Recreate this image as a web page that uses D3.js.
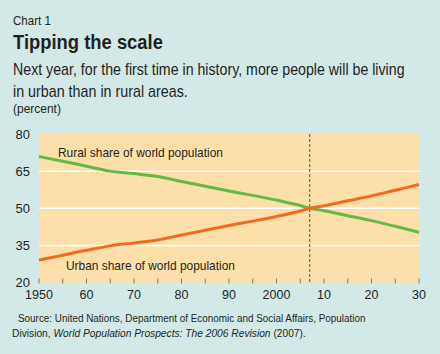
<!DOCTYPE html>
<html lang="en">
<head>
<meta charset="UTF-8">
<title>Tipping the scale</title>
<script src="https://cdnjs.cloudflare.com/ajax/libs/d3/7.8.5/d3.min.js"></script>
<style>
  body { margin: 0; background: #d2e9e8; }
  svg { display: block; font-family: "Liberation Sans", Arial, sans-serif; }
</style>
</head>
<body>
<div id="chart"></div>
<script>
  // data (percent of world population)
  var years = [1950, 1955, 1960, 1965, 1970, 1975, 1980, 1985, 1990, 1995, 2000, 2005, 2007, 2010, 2015, 2020, 2025, 2030];
  var urban = [29.1, 31.0, 33.0, 34.8, 36.0, 37.2, 39.2, 41.1, 43.0, 44.8, 46.7, 48.9, 50.0, 51.0, 53.0, 55.0, 57.3, 59.6];
  var rural = [70.9, 69.0, 67.0, 65.0, 64.0, 62.8, 60.8, 58.9, 57.0, 55.2, 53.3, 51.1, 50.0, 49.0, 47.0, 45.0, 42.7, 40.3];
  var yTicks = [20, 35, 50, 65, 80];
  var xTicks = [1950, 1960, 1970, 1980, 1990, 2000, 2010, 2020, 2030];
  var xTickLabels = ['1950', '60', '70', '80', '90', '2000', '10', '20', '30'];
  var markerYear = 2007;

  var w = 440, h = 354;
  var svg = d3.select('#chart').append('svg')
      .attr('width', w)
      .attr('height', h);

  svg.append('rect').attr('width', w).attr('height', h).attr('fill', '#d2e9e8');

  var x = d3.scaleLinear().domain([1950, 2030]).range([39, 419]);
  var y = d3.scaleLinear().domain([20, 80]).range([282.5, 134]);

  var ink = '#231f20';

  // squeeze a text horizontally to the width it has in the reference (condensed face)
  function squeeze(t, px, py, width) {
    var nat = t.node().getComputedTextLength();
    t.attr('transform', 'translate(' + px + ',' + py + ') scale(' + (width / nat) + ',1)');
    return t;
  }
  function label(px, py, str, size, width) {
    var t = svg.append('text').text(str)
        .style('font-size', size + 'px').attr('fill', ink);
    return squeeze(t, px, py, width);
  }

  // titles
  label(13, 25, 'Chart 1', 13, 38);
  var ttl = svg.append('text').text('Tipping the scale')
      .style('font-size', '21px').style('font-weight', 'bold').attr('fill', ink);
  squeeze(ttl, 13, 49, 150);
  label(13, 75, 'Next year, for the first time in history, more people will be living', 16, 392);
  label(13, 97, 'in urban than in rural areas.', 16, 175);
  label(13, 113, '(percent)', 12, 48);

  // plot background
  svg.append('rect')
      .attr('x', x(1950)).attr('y', y(80))
      .attr('width', x(2030) - x(1950))
      .attr('height', y(20) - y(80))
      .attr('fill', '#fde0a9');

  // gridlines
  svg.append('g').selectAll('line')
      .data(yTicks.filter(function (d) { return d > 20 && d < 80; }))
      .enter().append('line')
      .attr('x1', x(1950)).attr('x2', x(2030))
      .attr('y1', function (d) { return y(d); })
      .attr('y2', function (d) { return y(d); })
      .attr('stroke', '#fff').attr('stroke-width', 1.5);

  // y labels
  svg.append('g').selectAll('text')
      .data(yTicks)
      .enter().append('text')
      .attr('x', 30)
      .attr('y', function (d) { return y(d); })
      .attr('dy', '0.36em')
      .attr('text-anchor', 'end')
      .text(function (d) { return d; })
      .style('font-size', '13px').attr('fill', ink);

  // x ticks every 5 years, drawn up into the plot
  var minor = d3.range(1950, 2031, 5);
  svg.append('g').selectAll('line')
      .data(minor)
      .enter().append('line')
      .attr('x1', function (d) { return x(d); })
      .attr('x2', function (d) { return x(d); })
      .attr('y1', y(20) - 4).attr('y2', y(20) + 1)
      .attr('stroke', '#8a7a66').attr('stroke-width', 1);

  svg.append('g').selectAll('text')
      .data(xTicks)
      .enter().append('text')
      .attr('x', function (d) { return x(d); })
      .attr('y', 299)
      .attr('text-anchor', 'middle')
      .text(function (d, i) { return xTickLabels[i]; })
      .style('font-size', '12.5px').attr('fill', ink);

  // dashed marker
  svg.append('line')
      .attr('x1', x(markerYear)).attr('x2', x(markerYear))
      .attr('y1', y(80)).attr('y2', y(20))
      .attr('stroke', '#5a4a40').attr('stroke-width', 1)
      .attr('stroke-dasharray', '3,2');

  // lines
  var line = d3.line()
      .curve(d3.curveMonotoneX)
      .x(function (d) { return x(d[0]); })
      .y(function (d) { return y(d[1]); });

  svg.append('path')
      .datum(d3.zip(years, rural))
      .attr('d', line)
      .attr('fill', 'none').attr('stroke', '#62b946').attr('stroke-width', 3);

  svg.append('path')
      .datum(d3.zip(years, urban))
      .attr('d', line)
      .attr('fill', 'none').attr('stroke', '#f26a22').attr('stroke-width', 3);

  // line labels
  label(58, 157, 'Rural share of world population', 13, 165);
  label(66, 270, 'Urban share of world population', 13, 169);

  // source
  label(18, 322, 'Source: United Nations, Department of Economic and Social Affairs, Population', 11.5, 348);
  var l2 = svg.append('text')
      .style('font-size', '11.5px').attr('fill', ink);
  l2.append('tspan').text('Division, ');
  l2.append('tspan').style('font-style', 'italic')
      .text('World Population Prospects: The 2006 Revision');
  l2.append('tspan').text(' (2007).');
  squeeze(l2, 12, 337, 294);
</script>
</body>
</html>
